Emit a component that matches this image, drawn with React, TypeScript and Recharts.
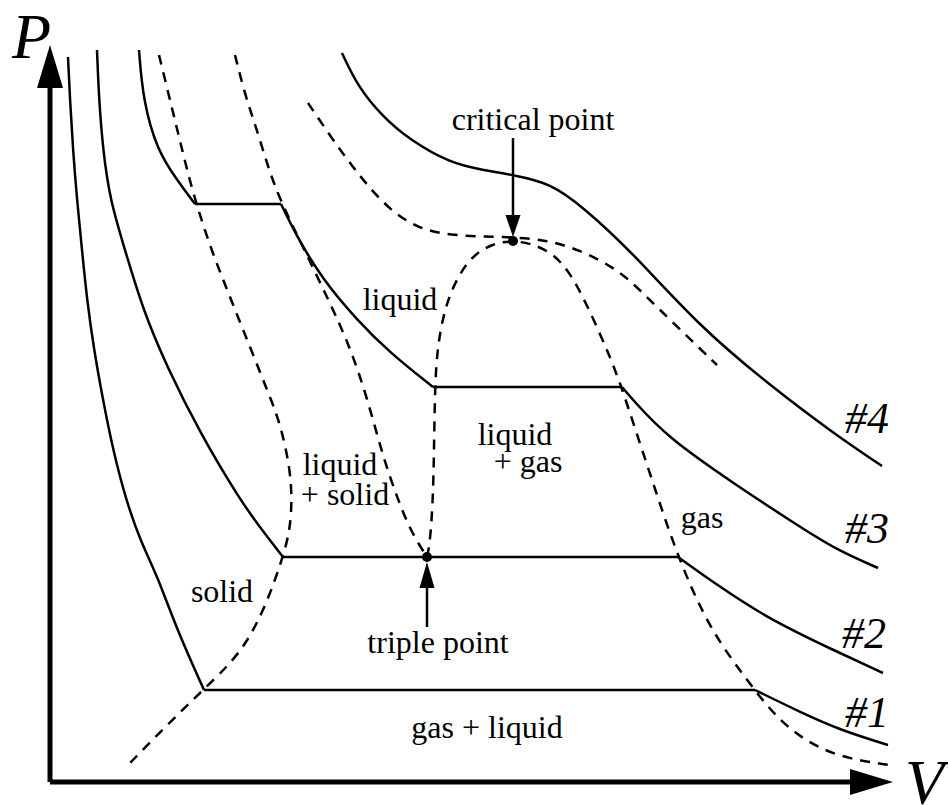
import React from 'react';
import { ComposedChart, Line, Scatter, XAxis, YAxis } from 'recharts';

// V / P in arbitrary units (origin at the axes corner)
type Pt = [number, number];

// isotherm #1 (coldest)
const iso1Solid: Pt[] = [[18, 725], [20, 682], [23, 632], [27, 582], [32, 532], [37, 482], [44, 432], [53, 382], [63, 332], [76, 282], [90, 242], [107, 207], [127, 152], [154, 92]];
const iso1Flat: Pt[] = [[154, 92], [705, 92]];
const iso1Gas: Pt[] = [[705, 92], [750, 70], [790, 52], [838, 37]];

// isotherm #2 (through the triple point)
const iso2Solid: Pt[] = [[47, 732], [49, 682], [53, 632], [60, 582], [75, 532], [93, 472], [117, 415], [150, 349], [190, 282], [212, 252], [233, 225]];
const iso2Flat: Pt[] = [[233, 225], [628, 225]];
const iso2Gas: Pt[] = [[628, 225], [667, 197], [717, 164], [783, 132], [833, 109]];

// isotherm #3
const iso3Solid: Pt[] = [[89, 732], [93, 682], [107, 632], [127, 602], [145, 578]];
const iso3Melt: Pt[] = [[145, 578], [231, 578]];
const iso3Liquid: Pt[] = [[231, 578], [247, 545], [273, 502], [307, 462], [340, 429], [383, 395]];
const iso3Boil: Pt[] = [[383, 395], [572, 395]];
const iso3Gas: Pt[] = [[572, 395], [583, 382], [617, 345], [683, 299], [750, 255], [787, 232], [828, 214]];

// isotherm #4 (above critical)
const iso4: Pt[] = [[292, 729], [308, 695], [333, 665], [360, 642], [400, 619], [433, 612], [463, 607], [500, 599], [533, 575], [580, 532], [650, 455], [717, 399], [783, 349], [832, 316]];

// phase boundaries (dashed)
const solidBoundary: Pt[] = [[109, 727], [120, 682], [131, 637], [142, 592], [160, 535], [180, 485], [200, 435], [220, 385], [230, 359], [240, 315], [242, 282], [240, 252], [233, 225], [217, 179], [197, 139], [176, 114], [153, 92], [115, 55], [80, 19]];
const liquidBoundary: Pt[] = [[185, 727], [195, 687], [207, 652], [218, 615], [230, 582], [253, 535], [280, 479], [300, 435], [317, 385], [333, 325], [347, 285], [360, 252], [377, 225]];
const dome: Pt[] = [[377, 225], [380, 239], [383, 282], [384, 332], [385, 395], [387, 429], [392, 462], [402, 495], [420, 525], [443, 539], [463, 541], [480, 539], [503, 529], [520, 509], [533, 485], [547, 455], [560, 425], [570, 399], [580, 369], [603, 299], [628, 224], [660, 152], [697, 102], [733, 55], [783, 25], [840, 17]];
const criticalIso: Pt[] = [[258, 679], [283, 642], [300, 619], [317, 597], [340, 572], [367, 554], [400, 546], [463, 545], [497, 542], [530, 532], [563, 515], [583, 499], [617, 465], [667, 417]];

const specialPoints: Pt[] = [[463, 541], [377, 225]];

// axes and pointer arrows: start -> arrowhead base
const pAxis: Pt[] = [[0, 0], [0, 694]];
const vAxis: Pt[] = [[0, 0], [800, 0]];
const criticalArrow: Pt[] = [[463, 644], [463, 567]];
const tripleArrow: Pt[] = [[377, 155], [377, 194]];

const regionText = ['critical point', 'liquid', 'liquid', '+ gas', 'liquid', '+ solid', 'gas', 'solid', 'triple point', 'gas + liquid'];
const regionAt: Pt[] = [[483, 652], [350, 472], [465, 337], [478, 310], [290, 307], [295, 277], [652, 254], [172, 180], [388, 129], [437, 44]];

const isoText = ['#4', '#3', '#2', '#1'];
const isoAt: Pt[] = [[795, 349], [795, 239], [792, 134], [795, 55]];

const axisText = ['P', 'V'];
const axisAt: Pt[] = [[-38, 724], [855, -22]];

const toRows = (a: Pt[]) => a.map(([v, p]) => ({ v, p }));
const FONT = "'Liberation Serif', 'Times New Roman', serif";
const dash = '10 8';
const LW = 2.5;

const arrowHead = (dir: 'up' | 'down' | 'right', len: number, half: number) => (props: any) => {
  const { cx, cy, index } = props;
  if (index !== 1) return <g key={`n${index}`} />;
  let pts = '';
  if (dir === 'up') pts = `${cx},${cy - len} ${cx - half},${cy} ${cx + half},${cy}`;
  if (dir === 'down') pts = `${cx},${cy + len} ${cx - half},${cy} ${cx + half},${cy}`;
  if (dir === 'right') pts = `${cx + len},${cy} ${cx},${cy - half} ${cx},${cy + half}`;
  return <polygon key="head" points={pts} fill="#000" />;
};

const textShape = (size: number, italic: boolean, anchor: string) => (props: any) => {
  const d = props.payload ?? props;
  return (
    <text x={props.cx} y={props.cy} fontFamily={FONT} fontSize={size} fontStyle={italic ? 'italic' : 'normal'}
      textAnchor={anchor} fill="#000">
      {d.text}
    </text>
  );
};

export default function App() {
  const curved = [iso1Solid, iso1Gas, iso2Solid, iso2Gas, iso3Solid, iso3Liquid, iso3Gas, iso4];
  const flats = [iso1Flat, iso2Flat, iso3Melt, iso3Boil];
  const dashed = [solidBoundary, liquidBoundary, dome, criticalIso];
  const regionRows = regionText.map((text, i) => ({ text, v: regionAt[i][0], p: regionAt[i][1] }));
  const isoRows = isoText.map((text, i) => ({ text, v: isoAt[i][0], p: isoAt[i][1] }));
  const axisRows = axisText.map((text, i) => ({ text, v: axisAt[i][0], p: axisAt[i][1] }));

  return (
    <div style={{ position: 'absolute', left: 0, top: 0, width: 948, height: 805, background: '#fff' }}>
      <ComposedChart width={948} height={805} margin={{ top: 0, right: 0, bottom: 0, left: 0 }}>
        <XAxis type="number" dataKey="v" domain={[-50, 898]} hide />
        <YAxis type="number" dataKey="p" domain={[-23, 782]} hide />

        {curved.map((s, i) => (
          <Line key={`c${i}`} data={toRows(s)} dataKey="p" type="basis" stroke="#000" strokeWidth={LW}
            dot={false} activeDot={false} isAnimationActive={false} />
        ))}
        {flats.map((s, i) => (
          <Line key={`f${i}`} data={toRows(s)} dataKey="p" type="linear" stroke="#000" strokeWidth={LW}
            dot={false} activeDot={false} isAnimationActive={false} />
        ))}
        {dashed.map((s, i) => (
          <Line key={`d${i}`} data={toRows(s)} dataKey="p" type="basis" stroke="#000" strokeWidth={LW}
            strokeDasharray={dash} dot={false} activeDot={false} isAnimationActive={false} />
        ))}

        <Line data={toRows(pAxis)} dataKey="p" type="linear" stroke="#000" strokeWidth={5}
          dot={arrowHead('up', 43, 13)} activeDot={false} isAnimationActive={false} />
        <Line data={toRows(vAxis)} dataKey="p" type="linear" stroke="#000" strokeWidth={5}
          dot={arrowHead('right', 43, 13)} activeDot={false} isAnimationActive={false} />
        <Line data={toRows(criticalArrow)} dataKey="p" type="linear" stroke="#000" strokeWidth={2.5}
          dot={arrowHead('down', 22, 7.5)} activeDot={false} isAnimationActive={false} />
        <Line data={toRows(tripleArrow)} dataKey="p" type="linear" stroke="#000" strokeWidth={2.5}
          dot={arrowHead('up', 26, 7.5)} activeDot={false} isAnimationActive={false} />

        <Scatter data={toRows(specialPoints)} fill="#000" isAnimationActive={false}
          shape={(p: any) => <circle cx={p.cx} cy={p.cy} r={5} fill="#000" />} />

        <Scatter data={regionRows} isAnimationActive={false} shape={textShape(32, false, 'middle')} />
        <Scatter data={isoRows} isAnimationActive={false} shape={textShape(44, true, 'start')} />
        <Scatter data={axisRows} isAnimationActive={false} shape={textShape(64, true, 'start')} />
      </ComposedChart>
    </div>
  );
}
